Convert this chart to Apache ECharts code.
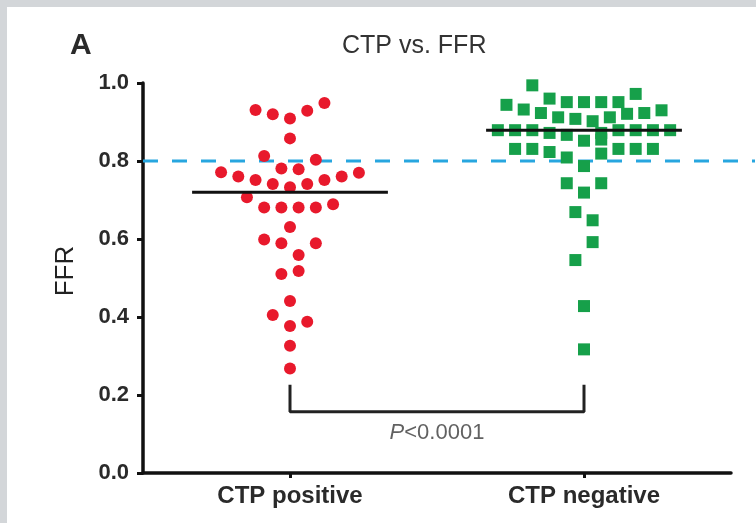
<!DOCTYPE html>
<html>
<head>
<meta charset="utf-8">
<script src="https://cdn.jsdelivr.net/npm/echarts@6/dist/echarts.min.js"></script>
<style>
html,body{margin:0;padding:0;background:#fff;}
#chart{width:756px;height:523px;}
</style>
</head>
<body>
<div id="chart"></div>
<script>
// ---- data ----
const categories = ['CTP positive', 'CTP negative'];
const yTicks = [0.0, 0.2, 0.4, 0.6, 0.8, 1.0];
const cutoff = 0.8;
const pLabel = 'P<0.0001';

// CTP positive (red circles): FFR values and swarm slot (column) index
const positiveValues = [0.931,0.920,0.909,0.929,0.949,0.858,0.813,0.803,0.781,0.779,
  0.771,0.760,0.751,0.741,0.733,0.741,0.751,0.760,0.770,0.707,
  0.681,0.681,0.681,0.681,0.689,0.631,0.599,0.589,0.589,0.559,
  0.510,0.518,0.441,0.405,0.377,0.388,0.326,0.268];
const positiveSlots = [-4,-2,0,2,4,0,-3,3,-1,1,
  -8,-6,-4,-2,0,2,4,6,8,-5,
  -3,-1,1,3,5,0,-3,-1,3,1,
  -1,1,0,-2,0,2,0,0];

// CTP negative (green squares)
const negativeValues = [0.994,0.972,0.960,0.951,0.951,0.951,0.951,0.944,0.932,0.923,
  0.912,0.908,0.902,0.912,0.921,0.923,0.930,0.879,0.879,0.879,
  0.872,0.867,0.872,0.879,0.879,0.879,0.879,0.852,0.855,0.831,
  0.831,0.823,0.809,0.819,0.831,0.831,0.831,0.787,0.743,0.743,
  0.719,0.669,0.648,0.592,0.546,0.428,0.317];
const negativeSlots = [-6,6,-4,-2,0,2,4,-9,-7,-5,
  -3,-1,1,3,5,7,9,-10,-8,-6,
  -4,-2,2,4,6,8,10,0,2,-8,
  -6,-4,-2,2,4,6,8,0,-2,2,
  0,-1,1,1,-1,0,0];

// ---- layout helpers ----
const SLOT = 0.0293;      // width of one swarm column, in category units
const HALF_MEDIAN = 0.333; // half width of median bar, in category units
const centers = [0.5, 1.5];
const FONT = '"Liberation Sans", Arial, sans-serif';

function median(arr){
  const s = arr.slice().sort((a,b)=>a-b);
  const n = s.length;
  return n % 2 ? s[(n-1)/2] : (s[n/2-1] + s[n/2]) / 2;
}
const posPts = positiveValues.map((v,i)=>[centers[0] + positiveSlots[i]*SLOT, v]);
const negPts = negativeValues.map((v,i)=>[centers[1] + negativeSlots[i]*SLOT, v]);
const medPos = median(positiveValues);
const medNeg = median(negativeValues);

const bracketTop = 0.226, bracketBottom = 0.157, pTextY = 0.103;

const chart = echarts.init(document.getElementById('chart'), null, {renderer:'canvas'});
chart.setOption({
  backgroundColor: '#ffffff',
  animation: false,
  textStyle: {fontFamily: FONT},
  graphic: [
    {type:'rect', shape:{x:0,y:0,width:7,height:523}, style:{fill:'#d3d6d9'}, z:-1},
    {type:'rect', shape:{x:0,y:0,width:756,height:7}, style:{fill:'#d3d6d9'}, z:-1}
  ],
  title: [
    {text:'A', left:65, top:26, textStyle:{fontFamily:FONT, fontSize:30, fontWeight:'bold', color:'#2a2a2a'}},
    {text:'CTP vs. FFR', left:337, top:29, textStyle:{fontFamily:FONT, fontSize:25, fontWeight:'normal', color:'#333'}}
  ],
  grid: [
    {left:143, right:25, top:83, bottom:50},
    {left:143, right:1, top:83, bottom:50}
  ],
  xAxis: [
    {
      type:'value', gridIndex:0, min:0, max:2,
      splitLine:{show:false},
      axisLine:{show:true, onZero:false, lineStyle:{color:'#111', width:3.5}},
      axisTick:{show:true, customValues:centers, length:5, lineStyle:{color:'#111', width:3}},
      axisLabel:{show:true, customValues:centers, margin:11,
        formatter:(v)=>categories[Math.round(v-0.5)],
        fontFamily:FONT, fontSize:24, fontWeight:'bold', color:'#2a2a2a'}
    },
    {type:'value', gridIndex:1, min:0, max:1, show:false}
  ],
  yAxis: [
    {
      type:'value', gridIndex:0, min:yTicks[0], max:yTicks[yTicks.length-1], interval:0.2,
      splitLine:{show:false},
      axisLine:{show:true, lineStyle:{color:'#111', width:3.5}},
      axisTick:{show:true, length:6, lineStyle:{color:'#111', width:3}},
      axisLabel:{margin:14, formatter:(v)=>v.toFixed(1), fontFamily:FONT, fontSize:22, fontWeight:'bold', color:'#2a2a2a'},
      name:'FFR', nameLocation:'middle', nameGap:64, nameRotate:90,
      nameTextStyle:{fontFamily:FONT, fontSize:26, color:'#222', padding:[0,0,0,14]}
    },
    {type:'value', gridIndex:1, min:0, max:1, show:false}
  ],
  series: [
    {
      type:'line', xAxisIndex:1, yAxisIndex:1, data:[[0,cutoff],[1,cutoff]],
      symbol:'none', z:1,
      lineStyle:{color:'#27a6df', width:3, type:[15,14]}
    },
    {
      name:categories[0], type:'scatter', data:posPts, symbol:'circle', symbolSize:12,
      itemStyle:{color:'#e8192c', opacity:1}, z:3
    },
    {
      name:categories[1], type:'scatter', data:negPts, symbol:'rect', symbolSize:12,
      itemStyle:{color:'#16a04a', opacity:1}, z:3
    },
    {
      type:'line', data:[[centers[0]-HALF_MEDIAN, medPos],[centers[0]+HALF_MEDIAN, medPos]],
      symbol:'none', z:5, lineStyle:{color:'#111', width:3}
    },
    {
      type:'line', data:[[centers[1]-HALF_MEDIAN, medNeg],[centers[1]+HALF_MEDIAN, medNeg]],
      symbol:'none', z:5, lineStyle:{color:'#111', width:3}
    },
    {
      type:'line', data:[[centers[0],bracketTop],[centers[0],bracketBottom],[centers[1],bracketBottom],[centers[1],bracketTop]],
      symbol:'none', z:5, lineStyle:{color:'#222', width:3}
    },
    {
      type:'scatter', data:[[(centers[0]+centers[1])/2, pTextY]], symbolSize:0, z:6,
      label:{show:true, position:'inside',
        formatter:()=> '{i|' + pLabel.charAt(0) + '}{n|' + pLabel.slice(1) + '}',
        rich:{
          i:{fontFamily:FONT, fontSize:22, fontStyle:'italic', color:'#3a3a3a'},
          n:{fontFamily:FONT, fontSize:22, color:'#3a3a3a'}
        }}
    }
  ]
});
</script>
</body>
</html>
